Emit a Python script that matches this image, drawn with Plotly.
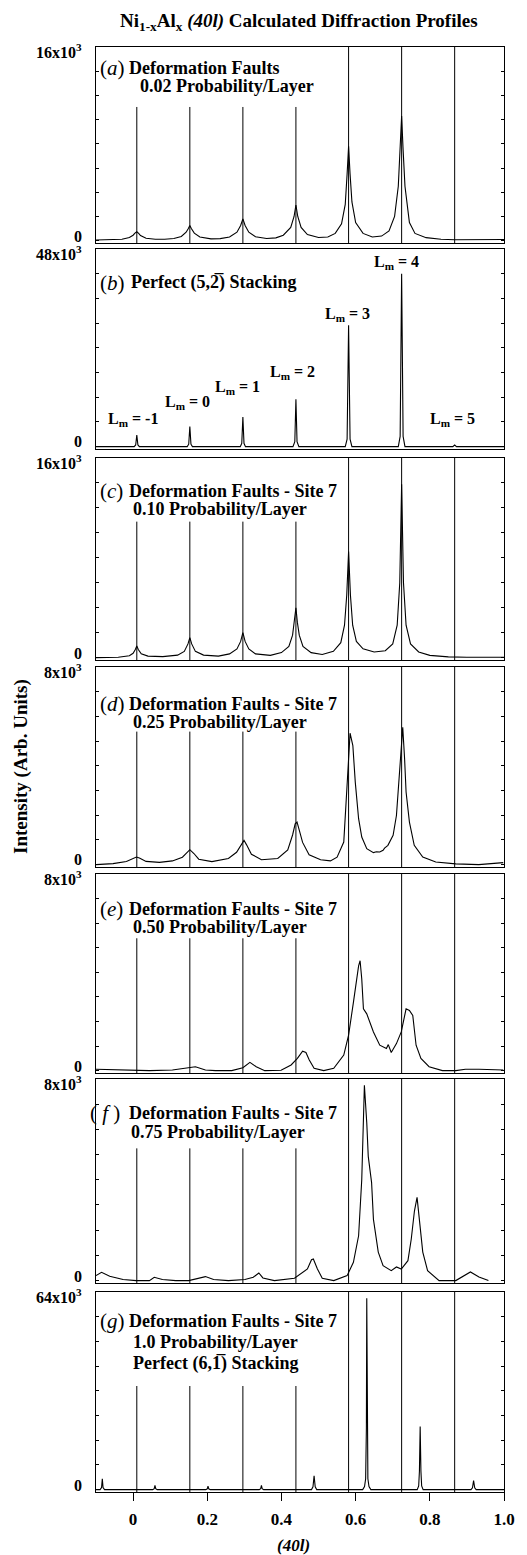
import plotly.graph_objects as go

# ---------------- data ----------------
ref_lines = [0.010, 0.153, 0.296, 0.439, 0.581, 0.724, 0.867]
panel_max = [16000, 48000, 16000, 8000, 8000, 8000, 64000]
panel_top_label = ["16x10<sup>3</sup>", "48x10<sup>3</sup>", "16x10<sup>3</sup>",
                   "8x10<sup>3</sup>", "8x10<sup>3</sup>", "8x10<sup>3</sup>", "64x10<sup>3</sup>"]
panel_letter = ["a", "b", "c", "d", "e", "f", "g"]
panel_line1 = ["Deformation Faults", "Perfect (5,2\u0305) Stacking",
               "Deformation Faults - Site 7", "Deformation Faults - Site 7",
               "Deformation Faults - Site 7", "Deformation Faults - Site 7",
               "Deformation Faults - Site 7"]
panel_line2 = ["0.02 Probability/Layer", "", "0.10 Probability/Layer",
               "0.25 Probability/Layer", "0.50 Probability/Layer",
               "0.75 Probability/Layer", "1.0 Probability/Layer"]
panel_line3 = ["", "", "", "", "", "", "Perfect (6,1\u0305) Stacking"]

lm_text = ["L<sub>m</sub> = -1", "L<sub>m</sub> = 0", "L<sub>m</sub> = 1", "L<sub>m</sub> = 2",
           "L<sub>m</sub> = 3", "L<sub>m</sub> = 4", "L<sub>m</sub> = 5"]
lm_x = [-0.001, 0.147, 0.282, 0.430, 0.577, 0.710, 0.861]
lm_y = [6500, 10600, 14300, 17900, 32200, 44800, 6500]

x_tick_vals = [0, 0.2, 0.4, 0.6, 0.8, 1.0]
x_tick_text = ["0", "0.2", "0.4", "0.6", "0.8", "1.0"]

a_pts = [(-0.100, 60), (-0.060, 70), (-0.030, 120), (-0.010, 260), (0.000, 450), (0.005, 620),
         (0.010, 740), (0.015, 600), (0.020, 420), (0.035, 200), (0.060, 120), (0.085, 120),
         (0.110, 180), (0.130, 350), (0.143, 700), (0.149, 1000), (0.153, 1250), (0.157, 1000),
         (0.165, 620), (0.180, 300), (0.210, 150), (0.235, 170), (0.260, 300), (0.280, 700),
         (0.290, 1250), (0.296, 1800), (0.302, 1250), (0.312, 700), (0.330, 320), (0.360, 180),
         (0.385, 230), (0.405, 450), (0.425, 1100), (0.434, 2000), (0.439, 2950), (0.444, 2000),
         (0.453, 1100), (0.470, 500), (0.500, 260), (0.525, 300), (0.545, 600), (0.562, 1400),
         (0.572, 3000), (0.577, 5500), (0.581, 7800), (0.585, 5500), (0.590, 3200), (0.600, 1500),
         (0.620, 600), (0.645, 300), (0.670, 380), (0.690, 800), (0.705, 2000), (0.715, 4500),
         (0.720, 7500), (0.724, 10300), (0.728, 7500), (0.733, 4500), (0.745, 1500), (0.760, 600),
         (0.790, 250), (0.830, 120), (0.867, 80), (0.900, 70), (0.950, 70), (1.000, 100)]

b_pts = [(-0.100, 0), (0.003, 0), (0.007, 400), (0.010, 2800), (0.013, 400), (0.017, 0),
         (0.146, 0), (0.150, 600), (0.153, 4900), (0.156, 600), (0.160, 0),
         (0.289, 0), (0.293, 800), (0.296, 7200), (0.299, 800), (0.303, 0),
         (0.431, 0), (0.436, 1200), (0.439, 11500), (0.442, 1200), (0.447, 0),
         (0.572, 0), (0.577, 1800), (0.581, 29500), (0.585, 1800), (0.590, 0),
         (0.715, 0), (0.720, 2500), (0.724, 42000), (0.728, 2500), (0.733, 0),
         (0.862, 0), (0.867, 400), (0.872, 0), (1.000, 0)]

c_pts = [(-0.100, 0), (-0.040, 30), (-0.010, 150), (0.000, 350), (0.006, 650), (0.010, 930),
         (0.014, 650), (0.022, 300), (0.040, 120), (0.080, 80), (0.120, 200), (0.138, 500),
         (0.148, 1100), (0.153, 1600), (0.158, 1100), (0.168, 500), (0.190, 200), (0.230, 120),
         (0.260, 300), (0.280, 700), (0.290, 1300), (0.296, 2000), (0.302, 1300), (0.312, 700),
         (0.330, 300), (0.370, 180), (0.400, 400), (0.420, 900), (0.430, 1800), (0.435, 2800),
         (0.439, 4000), (0.443, 2800), (0.448, 1800), (0.458, 900), (0.480, 400), (0.510, 250),
         (0.540, 500), (0.560, 1200), (0.570, 2600), (0.576, 5000), (0.581, 8500), (0.586, 5000),
         (0.592, 2600), (0.602, 1300), (0.620, 700), (0.650, 450), (0.680, 550), (0.700, 1100),
         (0.712, 2600), (0.719, 6000), (0.724, 13900), (0.729, 6000), (0.736, 2600), (0.748, 1100),
         (0.770, 450), (0.800, 180), (0.850, 60), (0.900, 30), (1.000, 30)]

d_pts = [(-0.100, 0), (-0.054, 40), (-0.018, 130), (0.000, 230), (0.009, 310), (0.017, 270),
         (0.035, 130), (0.071, 90), (0.106, 150), (0.133, 300), (0.146, 480), (0.153, 606),
         (0.164, 450), (0.177, 220), (0.2125, 120), (0.257, 250), (0.279, 500), (0.292, 850),
         (0.299, 983), (0.306, 800), (0.319, 420), (0.346, 200), (0.390, 250), (0.417, 600),
         (0.430, 1200), (0.437, 1650), (0.442, 1724), (0.448, 1400), (0.457, 900), (0.4745, 400),
         (0.5055, 200), (0.532, 150), (0.550, 300), (0.568, 916), (0.572, 1790), (0.578, 3500),
         (0.581, 4280), (0.585, 5320), (0.5925, 4820), (0.599, 3340), (0.608, 1860), (0.6165, 1118),
         (0.630, 647), (0.639, 580), (0.648, 485), (0.656, 520), (0.665, 510), (0.674, 580),
         (0.678, 670), (0.687, 780), (0.701, 1185), (0.710, 1990), (0.717, 3475), (0.723, 4690),
         (0.727, 5560), (0.732, 4280), (0.736, 2940), (0.745, 1724), (0.758, 781), (0.781, 310),
         (0.816, 108), (0.870, 30), (0.932, 0), (0.998, 80)]

e_pts = [(-0.100, 54), (0.000, 27), (0.044, 0), (0.106, 27), (0.142, 120), (0.168, 160),
         (0.195, 27), (0.222, 0), (0.266, 0), (0.296, 120), (0.315, 336), (0.332, 160),
         (0.355, 0), (0.399, 13), (0.426, 230), (0.443, 500), (0.457, 794), (0.466, 740),
         (0.475, 430), (0.488, 94), (0.514, 0), (0.541, 94), (0.568, 632), (0.581, 1440),
         (0.594, 2780), (0.601, 3590), (0.608, 4260), (0.612, 4470), (0.6165, 3730), (0.621, 2515),
         (0.630, 2310), (0.648, 1575), (0.665, 1035), (0.683, 900), (0.688, 1060), (0.696, 740),
         (0.710, 1100), (0.723, 1575), (0.736, 2515), (0.745, 2450), (0.754, 2250), (0.763, 1035),
         (0.776, 500), (0.798, 160), (0.834, 0), (0.870, 0), (0.896, 54), (0.9325, 54), (0.998, 27)]

f_pts = [(-0.100, 197), (-0.085, 330), (-0.063, 171), (-0.027, 40), (0.0085, 0), (0.044, 0),
         (0.057, 132), (0.079, 40), (0.115, 0), (0.150, 0), (0.195, 158), (0.217, 40),
         (0.257, 0), (0.3015, 40), (0.324, 132), (0.339, 303), (0.350, 105), (0.381, 0),
         (0.435, 92), (0.470, 460), (0.481, 830), (0.486, 855), (0.497, 460), (0.510, 92),
         (0.541, 0), (0.577, 197), (0.594, 724), (0.608, 1777), (0.6165, 4014), (0.620, 5720),
         (0.623, 7300), (0.6236, 7750), (0.630, 6260), (0.634, 4930), (0.643, 3890), (0.648, 2430),
         (0.661, 1130), (0.674, 590), (0.696, 395), (0.710, 540), (0.723, 460), (0.741, 790),
         (0.750, 1650), (0.7585, 2760), (0.7656, 3300), (0.772, 2320), (0.781, 1130), (0.794, 395),
         (0.825, 0), (0.870, 0), (0.892, 200), (0.9095, 340), (0.9325, 145), (0.958, 0)]

g_pts = [(-0.100, 0), (-0.089, 0), (-0.085, 700), (-0.083, 3500), (-0.081, 700), (-0.077, 0),
         (0.053, 0), (0.057, 300), (0.059, 1400), (0.061, 300), (0.065, 0),
         (0.196, 0), (0.200, 250), (0.202, 1100), (0.204, 250), (0.208, 0),
         (0.340, 0), (0.344, 300), (0.346, 1400), (0.348, 300), (0.352, 0),
         (0.481, 0), (0.485, 900), (0.488, 4500), (0.491, 900), (0.495, 0),
         (0.619, 0), (0.624, 1000), (0.627, 3500), (0.629, 20000), (0.630, 62000), (0.631, 20000),
         (0.633, 3500), (0.636, 1000), (0.641, 0),
         (0.766, 0), (0.770, 1200), (0.772, 6000), (0.774, 20400), (0.776, 6000), (0.778, 1200),
         (0.782, 0), (0.911, 0), (0.915, 600), (0.918, 2900), (0.921, 600), (0.925, 0), (1.000, 0)]

panels = [a_pts, b_pts, c_pts, d_pts, e_pts, f_pts, g_pts]

# ---------------- layout geometry (page pixels) ----------------
PAGE_W, PAGE_H = 527, 1555
OFF = 8   # default body margin of the html page
W, H = PAGE_W - OFF, PAGE_H - OFF
PL, PR, PT, PB = 96, 509, 47, 1492
panel_px = [(47, 243), (249, 449), (458, 660), (667, 867), (874, 1073), (1079, 1283), (1292, 1492)]
line_cover = [0.694, None, 0.685, 0.677, 0.677, 0.66, 0.53]   # top of first four lines (domain frac)
text_off = [21, 34, 33, 37, 35, 34, 29]
text_gap = [18, 19, 18, 18, 18, 19, 21]
letter_px = [98, 98, 98, 98, 98, 88, 98]
line1_px = [127, 129, 127, 127, 127, 127, 127]
line2_px = [139, 131, 131, 131, 131, 129, 131]

FONT = "Liberation Serif"


def px2paper_x(px):
    return (px - PL) / (PR - PL)


def px2paper_y(py):
    return (PB - py) / (PB - PT)


fig = go.Figure()
layout = dict(width=W, height=H,
              margin=dict(l=PL - OFF, r=PAGE_W - PR, t=PT - OFF, b=PAGE_H - PB, pad=0),
              paper_bgcolor="white", plot_bgcolor="white", showlegend=False,
              font=dict(family=FONT, color="black"))
shapes = []
annotations = []

for i, pts in enumerate(panels):
    n = i + 1
    xs = [p[0] for p in pts]
    ys = [p[1] for p in pts]
    xa = "x" if n == 1 else f"x{n}"
    ya = "y" if n == 1 else f"y{n}"
    fig.add_trace(go.Scatter(x=xs, y=ys, mode="lines", line=dict(color="black", width=1.1),
                             xaxis=xa, yaxis=ya, hoverinfo="skip"))
    top, bot = panel_px[i]
    dom = [px2paper_y(bot), px2paper_y(top)]
    ymax = panel_max[i]
    is_last = (n == 7)
    layout[f"xaxis{'' if n == 1 else n}"] = dict(
        domain=[0, 1], anchor=ya, range=[-0.1, 1.0],
        showline=True, linecolor="black", linewidth=1, mirror=True,
        showgrid=False, zeroline=False,
        tickmode="array", tickvals=x_tick_vals, ticktext=x_tick_text,
        ticks="outside" if is_last else "", ticklen=8, tickcolor="black",
        showticklabels=is_last, ticklabelstandoff=4,
        tickfont=dict(family=FONT, size=17, weight="bold"),
        matches=None if n == 7 else "x7",
    )
    layout[f"yaxis{'' if n == 1 else n}"] = dict(
        domain=dom, anchor=xa, range=[-0.012 * ymax, ymax],
        showline=True, linecolor="black", linewidth=1, mirror="ticks",
        showgrid=False, zeroline=False, showticklabels=False,
        tickmode="array", tickvals=[0, ymax],
        ticks="inside", ticklen=3, tickcolor="black",
        minor=dict(tickmode="linear", tick0=0, dtick=ymax / 8, ticks="inside",
                   ticklen=3, tickcolor="black"),
    )
    # y tick labels
    annotations.append(dict(text="<b>0</b>", xref="paper", yref="paper",
                            x=px2paper_x(84), y=px2paper_y(bot - 7), xanchor="right",
                            yanchor="middle", showarrow=False, font=dict(family=FONT, size=16)))
    annotations.append(dict(text=f"<b>{panel_top_label[i]}</b>", xref="paper", yref="paper",
                            x=px2paper_x(84), y=px2paper_y(top + 4), xanchor="right",
                            yanchor="middle", showarrow=False, font=dict(family=FONT, size=16)))
    # reference lines
    if line_cover[i] is not None:
        for k, xv in enumerate(ref_lines):
            y1 = line_cover[i] if k < 4 else 1.0
            shapes.append(dict(type="line", xref=xa, yref=f"{ya} domain", x0=xv, x1=xv,
                               y0=0, y1=y1, line=dict(color="black", width=1)))
    # panel text
    y1px = top + text_off[i]
    letter = " f " if panel_letter[i] == "f" else panel_letter[i]
    annotations.append(dict(text=f"(<i>{letter}</i>)",
                            xref="paper", yref="paper", x=px2paper_x(letter_px[i]),
                            y=px2paper_y(y1px), xanchor="left", yanchor="middle",
                            showarrow=False, font=dict(family=FONT, size=21)))
    annotations.append(dict(text=f"<b>{panel_line1[i]}</b>", xref="paper", yref="paper",
                            x=px2paper_x(line1_px[i]), y=px2paper_y(y1px), xanchor="left",
                            yanchor="middle", showarrow=False, font=dict(family=FONT, size=18)))
    if panel_line2[i]:
        annotations.append(dict(text=f"<b>{panel_line2[i]}</b>", xref="paper", yref="paper",
                                x=px2paper_x(line2_px[i]), y=px2paper_y(y1px + text_gap[i]),
                                xanchor="left", yanchor="middle", showarrow=False,
                                font=dict(family=FONT, size=18)))
    if panel_line3[i]:
        annotations.append(dict(text=f"<b>{panel_line3[i]}</b>", xref="paper", yref="paper",
                                x=px2paper_x(line2_px[i]), y=px2paper_y(y1px + 2 * text_gap[i]),
                                xanchor="left", yanchor="middle", showarrow=False,
                                font=dict(family=FONT, size=18)))

# L_m labels in panel b
for t, xv, yv in zip(lm_text, lm_x, lm_y):
    annotations.append(dict(text=f"<b>{t}</b>", xref="x2", yref="y2", x=xv, y=yv,
                            xanchor="center", yanchor="middle", showarrow=False,
                            font=dict(family=FONT, size=16)))

# title, axis titles
annotations.append(dict(text="<b>Ni<sub>1-x</sub>Al<sub>x</sub> <i>(40l)</i> Calculated Diffraction Profiles</b>",
                        xref="paper", yref="paper", x=px2paper_x(301.5), y=px2paper_y(22),
                        xanchor="center", yanchor="middle", showarrow=False,
                        font=dict(family=FONT, size=19)))
annotations.append(dict(text="<b>Intensity (Arb. Units)</b>", xref="paper", yref="paper",
                        x=px2paper_x(20), y=px2paper_y(766), xanchor="center", yanchor="middle",
                        textangle=-90, showarrow=False, font=dict(family=FONT, size=19)))
annotations.append(dict(text="<b><i>(40l)</i></b>", xref="paper", yref="paper",
                        x=px2paper_x(296), y=px2paper_y(1546), xanchor="center", yanchor="middle",
                        showarrow=False, font=dict(family=FONT, size=17)))

layout["shapes"] = shapes
layout["annotations"] = annotations
fig.update_layout(**layout)
fig.write_html("out.html")
